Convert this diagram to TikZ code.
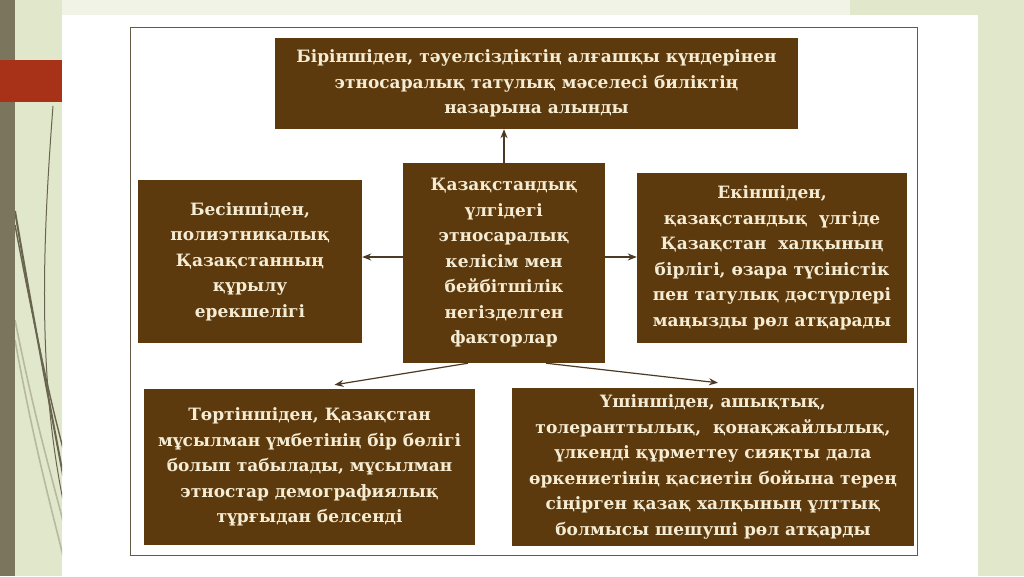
\documentclass[tikz,border=0pt]{standalone}
\usepackage{fontspec}
\setmainfont{DejaVu Serif}
\usetikzlibrary{arrows.meta}
\definecolor{boxfill}{RGB}{92,58,14}
\definecolor{boxtext}{RGB}{245,236,212}
\definecolor{arrowcol}{RGB}{75,58,38}
\definecolor{bggreen}{RGB}{225,231,203}
\definecolor{bandcol}{RGB}{123,117,94}
\definecolor{redbar}{RGB}{168,50,24}
\definecolor{stemcol}{RGB}{105,100,78}
\definecolor{framecol}{RGB}{100,90,70}
\tikzset{
  factbox/.style={fill=boxfill, text=boxtext, inner sep=0pt, align=center,
    font=\bfseries\fontsize{17}{25.5}\selectfont},
  arr/.style={draw=arrowcol, line width=1.2pt, -{Stealth[length=9pt,width=7pt]}},
  stem/.style={draw=stemcol, line width=1.2pt},
  faintstem/.style={draw=stemcol!35!bggreen, line width=1.6pt}
}
\begin{document}
\begin{tikzpicture}[x=1pt,y=-1pt]
\useasboundingbox (0,0) rectangle (1024,576);
% slide background
\fill[bggreen] (0,0) rectangle (1024,576);
\fill[white!50!bggreen] (62,0) rectangle (850,15);
\fill[white] (62,15) rectangle (978,576);
\fill[redbar] (0,60) rectangle (62,102);
\begin{scope}
\clip (15,0) rectangle (62,576);
\draw[faintstem] (15,320) .. controls (35,420) and (50,470) .. (64,525);
\draw[faintstem] (15,340) .. controls (35,450) and (52,510) .. (64,560);
\draw[stem, line width=1pt] (53,106) .. controls (42,250) and (38,380) .. (64,505);
\draw[stem, line width=2pt] (15,211) .. controls (30,300) and (45,380) .. (64,480);
\draw[stem, line width=1.4pt] (15,225) .. controls (35,330) and (50,400) .. (64,452);
\end{scope}
\fill[bandcol] (0,0) rectangle (15,576);
\fill[redbar] (0,60) rectangle (15,102);
% frame
\draw[framecol, line width=0.8pt] (130,27) rectangle (917,555);
% boxes
\node[factbox, minimum width=523pt, minimum height=91pt] (top) at (536.5,83.5)
  {Біріншіден, тәуелсіздіктің алғашқы күндерінен\\этносаралық татулық мәселесі биліктің\\назарына алынды};
\node[factbox, minimum width=202pt, minimum height=200pt] (c) at (504,263)
  {Қазақстандық\\үлгідегі\\этносаралық\\келісім мен\\бейбітшілік\\негізделген\\факторлар};
\node[factbox, minimum width=224pt, minimum height=163pt] (l) at (250,261.5)
  {Бесіншіден,\\полиэтникалық\\Қазақстанның\\құрылу\\ерекшелігі};
\node[factbox, minimum width=270pt, minimum height=170pt] (r) at (772,258)
  {Екіншіден,\\қазақстандық\ \ үлгіде\\Қазақстан\ \ халқының\\бірлігі, өзара түсіністік\\пен татулық дәстүрлері\\маңызды рөл атқарады};
\node[factbox, minimum width=331pt, minimum height=156pt] (bl) at (309.5,467)
  {Төртіншіден, Қазақстан\\мұсылман үмбетінің бір бөлігі\\болып табылады, мұсылман\\этностар демографиялық\\тұрғыдан белсенді};
\node[factbox, minimum width=402pt, minimum height=158pt] (br) at (713,467)
  {Үшіншіден, ашықтық,\\толеранттылық,\ \ қонақжайлылық,\\үлкенді құрметтеу сияқты дала\\өркениетінің қасиетін бойына терең\\сіңірген қазақ халқының ұлттық\\болмысы шешуші рөл атқарды};
% connectors
\draw[arr] (c.north) -- (c.north |- top.south);
\draw[arr] ([yshift=6pt]c.west) -- ([yshift=6pt]c.west -| l.east);
\draw[arr] ([yshift=6pt]c.east) -- ([yshift=6pt]c.east -| r.west);
\draw[arr] ([xshift=-36pt]c.south) -- ([xshift=25pt,yshift=4pt]bl.north);
\draw[arr] ([xshift=42pt]c.south) -- ([xshift=5pt,yshift=5pt]br.north);
\end{tikzpicture}
\end{document}
